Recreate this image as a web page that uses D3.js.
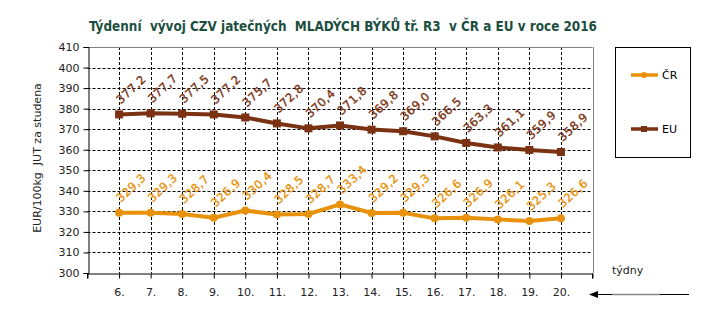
<!DOCTYPE html>
<html><head><meta charset="utf-8">
<script src="https://cdn.jsdelivr.net/npm/d3@7"></script>
<style>body{margin:0;background:#fff}svg{display:block}text{white-space:pre}</style>
</head><body>
<script>
const weeks = [6,7,8,9,10,11,12,13,14,15,16,17,18,19,20];
const weekLabels = ["6.","7.","8.","9.","10.","11.","12.","13.","14.","15.","16.","17.","18.","19.","20."];
const crValues = [329.3,329.3,328.7,326.9,330.4,328.5,328.7,333.4,329.2,329.3,326.6,326.9,326.1,325.3,326.6];
const euValues = [377.2,377.7,377.5,377.2,375.7,372.8,370.4,371.8,369.8,369.0,366.5,363.3,361.1,359.9,358.9];
const yTicks = [300,310,320,330,340,350,360,370,380,390,400,410];
const seriesNames = ["ČR","EU"];
const title = "Týdenní  vývoj CZV jatečných  MLADÝCH BÝKŮ tř. R3  v ČR a EU v roce 2016";
const yTitle = "EUR/100kg  JUT za studena";
const xTitle = "týdny";

const W=707,H=331;
const colCR="#E8920C", colEU="#7B3212";
const svg=d3.select("body").append("svg").attr("width",W).attr("height",H);
const font="DejaVu Sans, Verdana, sans-serif";

const x=d3.scaleLinear().domain([5,21]).range([87.5,592.5]);
const y=d3.scaleLinear().domain([300,410]).range([273,47]);

// title
svg.append("text").attr("x",343).attr("y",31).attr("text-anchor","middle")
 .attr("font-family","DejaVu Sans Condensed, DejaVu Sans, sans-serif").attr("font-weight","bold")
 .attr("font-size",14).attr("fill","#1D4F40").attr("textLength",508).attr("lengthAdjust","spacingAndGlyphs").text(title);

// grid
const g=svg.append("g");
g.selectAll(".hg").data(yTicks.filter(d=>d>300&&d<410)).join("line")
 .attr("x1",x(5)).attr("x2",x(21)).attr("y1",d=>Math.round(y(d))+0.5).attr("y2",d=>Math.round(y(d))+0.5)
 .attr("stroke","#000").attr("stroke-dasharray","3,2").attr("stroke-width",1);
g.selectAll(".vg").data(weeks).join("line")
 .attr("x1",d=>Math.round(x(d))+0.5).attr("x2",d=>Math.round(x(d))+0.5).attr("y1",y(410)).attr("y2",y(300))
 .attr("stroke","#000").attr("stroke-dasharray","3,2").attr("stroke-width",1);
g.append("line").attr("x1",x(5)).attr("x2",x(21)).attr("y1",Math.round(y(410))+0.5).attr("y2",Math.round(y(410))+0.5).attr("stroke","#808080");
g.append("line").attr("x1",Math.round(x(21))+0.5).attr("x2",Math.round(x(21))+0.5).attr("y1",y(410)).attr("y2",y(300)).attr("stroke","#808080");

// y axis
const ya=svg.append("g").attr("transform",`translate(${Math.round(x(5))+0.5},0)`)
 .call(d3.axisLeft(y).tickValues(yTicks).tickSize(5).tickPadding(4).tickFormat(d3.format("d")));
ya.select(".domain").attr("stroke","#000");
ya.selectAll("text").attr("font-family",font).attr("font-size",11).attr("fill","#222");
// x axis
const xa=svg.append("g").attr("transform",`translate(0,${Math.round(y(300))+0.5})`)
 .call(d3.axisBottom(x).tickValues(weeks).tickSize(5).tickPadding(10).tickFormat((d,i)=>weekLabels[i]));
xa.select(".domain").attr("stroke","#000");
xa.selectAll("text").attr("font-family",font).attr("font-size",11).attr("fill","#222");
xa.selectAll(".extra").data([5,21]).join("line").attr("x1",d=>x(d)).attr("x2",d=>x(d)).attr("y1",0).attr("y2",5).attr("stroke","#000");

// titles
svg.append("text").attr("transform",`translate(41,158) rotate(-90)`).attr("text-anchor","middle")
 .attr("font-family",font).attr("font-size",11).attr("fill","#222").text(yTitle);
svg.append("text").attr("x",612).attr("y",274).attr("font-family",font).attr("font-size",11).attr("fill","#222").text(xTitle);

// arrow
svg.append("line").attr("x1",596).attr("x2",689).attr("y1",294.5).attr("y2",294.5).attr("stroke","#000").attr("stroke-width",1.2);
svg.append("line").attr("x1",612).attr("x2",660).attr("y1",294.5).attr("y2",294.5).attr("stroke","#888").attr("stroke-width",1.6);
svg.append("path").attr("d","M589,294.5 L598,291 L598,298 Z").attr("fill","#000");

// series
const line=d3.line().x((d,i)=>x(weeks[i])).y(d=>y(d));
function drawSeries(vals,col,shape){
 svg.append("path").datum(vals).attr("d",line).attr("fill","none").attr("stroke",col).attr("stroke-width",4).attr("stroke-linejoin","round");
 if(shape==="sq"){
  svg.selectAll(null).data(vals).join("rect").attr("x",(d,i)=>x(weeks[i])-4).attr("y",d=>y(d)-4).attr("width",8).attr("height",8).attr("fill",col);
 } else {
  svg.selectAll(null).data(vals).join("circle").attr("cx",(d,i)=>x(weeks[i])).attr("cy",d=>y(d)).attr("r",4).attr("fill",col);
 }
 svg.selectAll(null).data(vals).join("text")
  .attr("transform",(d,i)=>`translate(${x(weeks[i])+12},${y(d)-25}) rotate(-43)`)
  .attr("text-anchor","middle").attr("dominant-baseline","central")
  .attr("font-family",font).attr("font-size",11.5).attr("letter-spacing",0.5)
  .attr("stroke",col).attr("stroke-width",0.35).attr("fill",col)
  .text(d=>d3.format(".1f")(d).replace(".",","));
}
drawSeries(euValues,colEU,"sq");
drawSeries(crValues,colCR,"circ");

// legend
svg.append("rect").attr("x",615.5).attr("y",47.5).attr("width",75).attr("height",110).attr("fill","#fff").attr("stroke","#000");
const leg=[{n:seriesNames[0],c:colCR,y:75,s:"circ"},{n:seriesNames[1],c:colEU,y:129,s:"sq"}];
leg.forEach(l=>{
 svg.append("line").attr("x1",631).attr("x2",658).attr("y1",l.y).attr("y2",l.y).attr("stroke",l.c).attr("stroke-width",3.5);
 if(l.s==="sq") svg.append("rect").attr("x",641).attr("y",l.y-3).attr("width",6).attr("height",6).attr("fill",l.c);
 else svg.append("circle").attr("cx",644).attr("cy",l.y).attr("r",3).attr("fill",l.c);
 svg.append("text").attr("x",662).attr("y",l.y).attr("dominant-baseline","central").attr("font-family",font).attr("font-size",11).attr("fill","#000").text(l.n);
});
</script>
</body></html>
